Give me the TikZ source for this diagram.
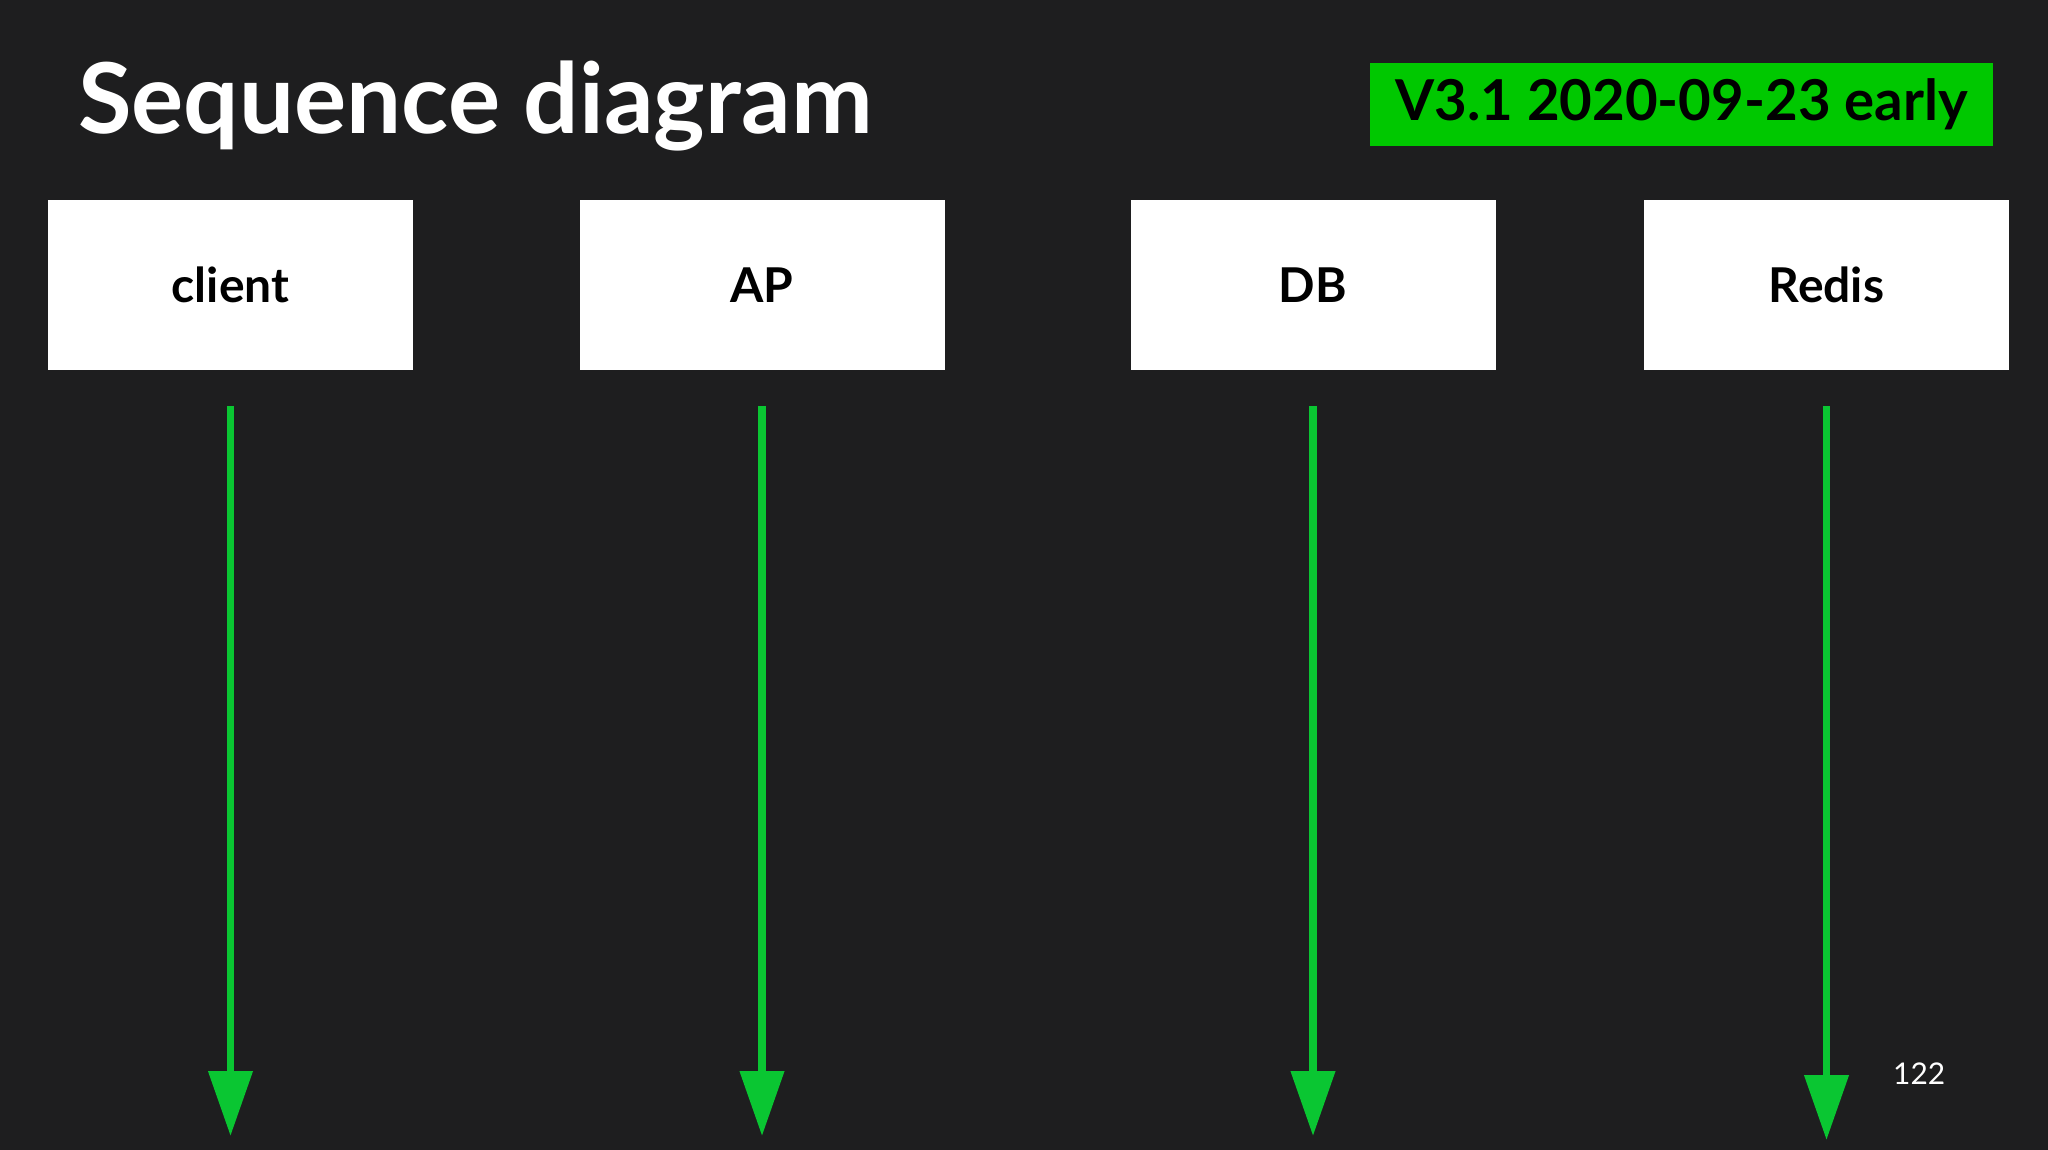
\documentclass[tikz,border=0pt]{standalone}
\usepackage{fontspec}
\setmainfont{Lato}
\usetikzlibrary{arrows.meta}
\definecolor{bg}{RGB}{30,30,31}
\definecolor{tag}{RGB}{0,200,0}
\definecolor{life}{RGB}{10,198,50}
\begin{document}
\begin{tikzpicture}[x=1pt,y=1pt,
  actor/.style={fill=white, minimum width=365pt, minimum height=170pt, inner sep=0pt, text=black, font=\fontsize{48}{56}\selectfont\bfseries},
  lifeline/.style={draw=life, line width=7.5pt, -{Triangle[length=65pt,width=43pt]}},
  tagbox/.style={fill=tag, minimum width=623pt, minimum height=83pt, inner sep=0pt, text=black, font=\bfseries},
  heading/.style={text=white, inner sep=0pt, font=\bfseries}]
\fill[bg] (0,0) rectangle (2048,-1150);
\useasboundingbox (0,0) rectangle (2048,-1150);
\node[heading, anchor=base west] (title) at (78,-134) {\resizebox{794pt}{!}{Sequence diagram}};
\node[tagbox, anchor=north west] (tag) at (1370,-63) {\raisebox{-5pt}{\resizebox{572pt}{!}{V3.1 2020-09-23 early}}};
\node[actor] (client) at (230.5,-285) {client};
\node[actor] (ap) at (762,-285) {AP};
\node[actor] (db) at (1313,-285) {DB};
\node[actor] (redis) at (1826.5,-285) {Redis};
\coordinate (clientend) at (230.5,-1136);
\coordinate (apend) at (762,-1136);
\coordinate (dbend) at (1313,-1136);
\coordinate (redisend) at (1826.5,-1140);
\draw[lifeline] ([yshift=-36pt]client.south) -- (clientend);
\draw[lifeline] ([yshift=-36pt]ap.south) -- (apend);
\draw[lifeline] ([yshift=-36pt]db.south) -- (dbend);
\draw[lifeline] ([yshift=-36pt]redis.south) -- (redisend);
\node[text=white, inner sep=0pt, anchor=base west] (page) at (1893,-1084) {\resizebox{52pt}{!}{122}};
\end{tikzpicture}
\end{document}
